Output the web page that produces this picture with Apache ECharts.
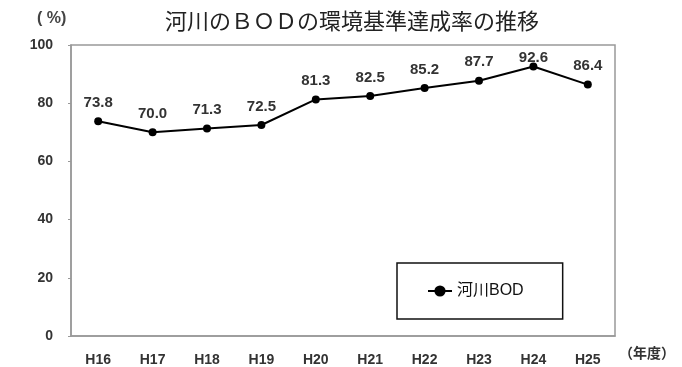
<!DOCTYPE html>
<html>
<head>
<meta charset="utf-8">
<style>
	html,body{ margin:0; padding:0; background:#fff;}
	#mainBox{ width:682px; height:367px;}
</style>
</head>
<body>
<div id="mainBox"></div>
<script src="https://cdn.jsdelivr.net/npm/echarts@6/dist/echarts.min.js"></script>
<script>
// 年度
var years=['H16','H17','H18','H19','H20','H21','H22','H23','H24','H25'];
// 河川BOD 達成率(%)
var bodRate=[73.8,70.0,71.3,72.5,81.3,82.5,85.2,87.7,92.6,86.4];
var yTicks=[0,20,40,60,80,100];

var txtFont='"Liberation Sans","Noto Sans CJK JP",sans-serif';
var gridTop=45;
var myChart=echarts.init(document.getElementById('mainBox'));
myChart.setOption({
	animation:false,
	title:{
		text:'河川のＢＯＤの環境基準達成率の推移',
		left:347,
		top:7,
		textAlign:'center',
		textStyle:{fontFamily:'serif,"Noto Sans CJK JP"',fontSize:22,fontWeight:'normal',color:'#222'}
	},
	legend:{
		left:397,
		top:263,
		orient:'horizontal',
		padding:[20,39,20,30],
		borderColor:'#111',
		borderWidth:1.5,
		borderRadius:0,
		itemWidth:24,
		itemHeight:14,
		itemGap:0,
		textStyle:{fontFamily:txtFont,fontSize:16,color:'#111'},
		data:['河川BOD']
	},
	grid:{left:71,right:67,top:gridTop,bottom:28,show:true,borderColor:'#999',borderWidth:1.5,containLabel:false},
	xAxis:{
		type:'category',
		data:years,
		boundaryGap:true,
		axisLine:{lineStyle:{color:'#999',width:1.5}},
		axisTick:{inside:true,length:4,lineStyle:{color:'#999'}},
		axisLabel:{fontFamily:txtFont,fontSize:14,fontWeight:'bold',color:'#333',margin:17}
	},
	yAxis:{
		type:'value',
		min:yTicks[0],
		max:yTicks[yTicks.length-1],
		interval:20,
		splitLine:{show:false},
		axisLine:{show:true,lineStyle:{color:'#999',width:1.5}},
		axisTick:{show:true,length:3,lineStyle:{color:'#999'}},
		axisLabel:{fontFamily:txtFont,fontSize:14,fontWeight:'bold',color:'#333',margin:18}
	},
	graphic:[
		{type:'text',left:37,top:11,style:{text:'( %)',font:'bold 16px '+txtFont,fill:'#444'}},
		{type:'text',left:619,top:347,style:{text:'（年度）',font:'bold 14px '+txtFont,fill:'#333'}}
	],
	series:[{
		name:'河川BOD',
		type:'line',
		data:bodRate,
		symbol:'circle',
		symbolSize:8,
		itemStyle:{color:'#000'},
		lineStyle:{color:'#000',width:2},
		label:{
			show:true,
			position:'top',
			distance:7,
			fontFamily:txtFont,
			fontSize:15,
			fontWeight:'bold',
			color:'#333',
			formatter:function(p){return p.value.toFixed(1);}
		},
		labelLayout:function(p){
			// keep labels inside the plot frame
			var minY=gridTop+5;
			if(p.labelRect.y<minY)return {dy:minY-p.labelRect.y};
			return {};
		}
	}]
});
</script>
</body>
</html>
